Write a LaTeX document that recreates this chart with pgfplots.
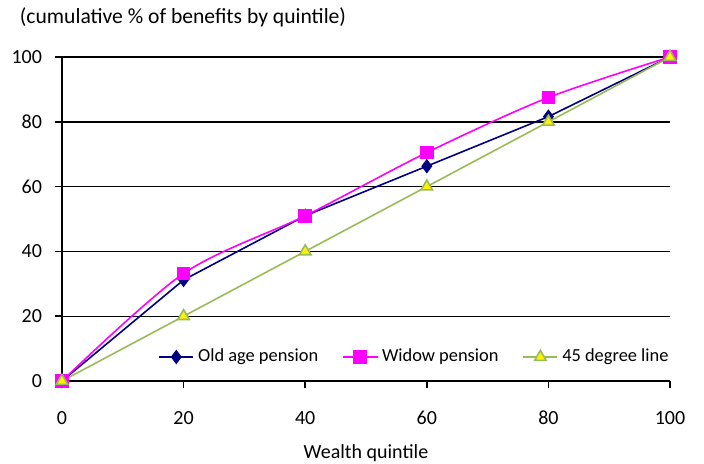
\documentclass[border=0pt]{standalone}
\usepackage{pgfplots}
\pgfplotsset{compat=1.18}
\usepackage{fontspec}
\setmainfont{Carlito}
\definecolor{oldage}{HTML}{000080}
\definecolor{widow}{HTML}{FF00FF}
\definecolor{degline}{HTML}{9BBB59}
\begin{document}
\begin{tikzpicture}
\useasboundingbox (-31pt,-41pt) rectangle (321pt,190.5pt);
\begin{axis}[
    scale only axis,
    width=304pt, height=162pt,
    xmin=0, xmax=100, ymin=0, ymax=100,
    xtick={0,20,...,100}, ytick={0,20,...,100},
    axis lines*=left,
    axis line style={black, line width=0.8pt},
    tick style={black, line width=0.8pt},
    tick align=outside,
    major tick length=3.5pt,
    ymajorgrids,
    grid style={black, line width=0.7pt},
    font=\fontsize{10}{12}\selectfont,
    /pgf/number format/assume math mode=true,
    xticklabel style={yshift=-8pt},
    yticklabel style={xshift=-3pt},
    xlabel={Wealth quintile},
    xlabel style={at={(axis description cs:0.5,0)}, anchor=center, yshift=-36pt},
    legend columns=3,
    legend style={at={(47pt,12pt)}, anchor=west, draw=none, fill=none,
      font=\fontsize{9.2}{11}\selectfont, inner sep=1pt,
      /tikz/every even column/.append style={column sep=10pt}},
    legend cell align=left,
    clip=false,
]
\addplot[color=oldage, line width=0.8pt, mark=diamond*, mark size=3pt,
  mark options={fill=oldage, draw=oldage}] coordinates {
(0,0) (20,31.2) (40,51) (60,66.3) (80,81.6) (100,100)
};
\addlegendentry{Old age pension}
\addplot[color=widow, line width=0.8pt, smooth, mark=square*, mark size=3pt,
  mark options={fill=widow, draw=widow}] coordinates {
(0,0) (20,33.2) (40,51) (60,70.5) (80,87.5) (100,100)
};
\addlegendentry{Widow pension}
\addplot[color=degline, line width=0.8pt, mark=triangle*, mark size=3.3pt,
  mark options={fill=yellow, draw=degline}] coordinates {
(0,0) (20,20) (40,40) (60,60) (80,80) (100,100)
};
\addlegendentry{45 degree line}
\node[anchor=center, font=\fontsize{10.8}{13}\selectfont] at (60.5pt,182pt) {(cumulative \% of benefits by quintile)};
\end{axis}
\end{tikzpicture}
\end{document}
